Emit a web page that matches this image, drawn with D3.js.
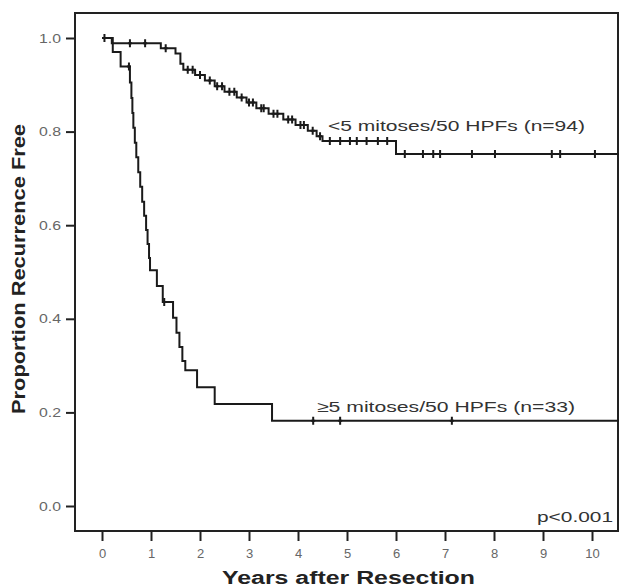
<!DOCTYPE html>
<html>
<head>
<meta charset="utf-8">
<script src="https://cdn.jsdelivr.net/npm/d3@7"></script>
<style>
    body { margin: 0; background: #fff; }
    svg { display: block; }
    text { font-family: "Liberation Sans", Arial, sans-serif; }
</style>
</head>
<body>
<div id="chart"></div>
<script>
const width = 624;
const height = 587;
const frame = { left: 75, top: 13, right: 618, bottom: 531 };

// <5 mitoses/50 HPFs: event times (years) and survival after each event
const lowTimes = [0.2, 1.2, 1.5, 1.6, 1.66, 1.9, 2.1, 2.3, 2.5, 2.75, 2.95, 3.15, 3.4, 3.7, 3.95, 4.2, 4.38, 4.5, 6.0];
const lowSurv = [0.989, 0.978, 0.967, 0.945, 0.932, 0.921, 0.909, 0.897, 0.885, 0.873, 0.862, 0.85, 0.838, 0.826, 0.814, 0.802, 0.79, 0.78, 0.752];
const lowCensored = [0.05, 0.57, 0.88, 1.3, 1.75, 1.85, 2.0, 2.2, 2.35, 2.45, 2.6, 2.7, 2.85, 3.0, 3.08, 3.25, 3.3, 3.5, 3.58, 3.8, 3.88, 4.05, 4.12, 4.3,
    4.45, 4.65, 4.86, 5.06, 5.2, 5.4, 5.63, 5.82, 6.18, 6.55, 6.76, 6.9, 7.55, 8.02, 9.18, 9.35, 10.06];

// >=5 mitoses/50 HPFs
const highTimes = [0.22, 0.38, 0.57, 0.6, 0.62, 0.64, 0.67, 0.7, 0.74, 0.78, 0.82, 0.86, 0.9, 0.93, 0.96, 0.98, 1.12, 1.24, 1.45, 1.52, 1.58, 1.64, 1.7, 1.94, 2.3, 3.47];
const highSurv = [0.97, 0.939, 0.905, 0.872, 0.84, 0.808, 0.776, 0.745, 0.713, 0.682, 0.65, 0.62, 0.59, 0.56, 0.53, 0.504, 0.47, 0.436, 0.402, 0.37, 0.34, 0.31, 0.29, 0.254, 0.218, 0.182];
const highCensored = [0.55, 1.27, 4.31, 4.86, 7.14];

const xTicks = [0, 1, 2, 3, 4, 5, 6, 7, 8, 9, 10];
const yTicks = [0, 0.2, 0.4, 0.6, 0.8, 1.0];
const followUpEnd = 10.55;

const svg = d3.select('#chart')
    .append('svg')
    .attr('width', width)
    .attr('height', height);

const x = d3.scaleLinear().domain([0, 10]).range([102, 592]);
const y = d3.scaleLinear().domain([0, 1]).range([506, 38]);

// AXES
const xAxis = svg.append('g')
    .attr('transform', `translate(0 ${frame.bottom})`)
    .call(d3.axisBottom(x).tickValues(xTicks).tickSize(10).tickSizeOuter(0).tickPadding(8));

const yAxis = svg.append('g')
    .attr('transform', `translate(${frame.left} 0)`)
    .call(d3.axisLeft(y).tickValues(yTicks).tickFormat(d3.format('.1f')).tickSize(9).tickSizeOuter(0).tickPadding(5));

[xAxis, yAxis].forEach(a => {
    a.select('.domain').remove();
    a.selectAll('.tick line').attr('stroke', '#222').attr('stroke-width', 2);
    a.selectAll('.tick text').attr('fill', '#666').style('font-size', '13px');
});
yAxis.selectAll('.tick text').attr('textLength', 22).attr('lengthAdjust', 'spacingAndGlyphs');

// FRAME
svg.append('rect')
    .attr('x', frame.left)
    .attr('y', frame.top)
    .attr('width', frame.right - frame.left)
    .attr('height', frame.bottom - frame.top)
    .attr('fill', 'none')
    .attr('stroke', '#222')
    .attr('stroke-width', 2);

// CURVES
const steps = (times, surv) => [[0, 1]].concat(times.map((t, i) => [t, surv[i]]), [[followUpEnd, surv[surv.length - 1]]]);
const survAt = (times, surv, t) => {
    const i = d3.bisectRight(times, t);
    return i === 0 ? 1 : surv[i - 1];
};

const line = d3.line()
    .x(d => x(d[0]))
    .y(d => y(d[1]))
    .curve(d3.curveStepAfter);

const groups = [
    { times: lowTimes, surv: lowSurv, censored: lowCensored },
    { times: highTimes, surv: highSurv, censored: highCensored }
];

groups.forEach(g => {
    svg.append('path')
        .datum(steps(g.times, g.surv))
        .attr('d', line)
        .attr('fill', 'none')
        .attr('stroke', '#1a1a1a')
        .attr('stroke-width', 2);

    svg.append('g').selectAll('path')
        .data(g.censored)
        .enter()
        .append('path')
        .attr('transform', d => `translate(${x(d)} ${y(survAt(g.times, g.surv, d))})`)
        .attr('d', 'M0 -4 v8 M-2 0 h4')
        .attr('stroke', '#1a1a1a')
        .attr('stroke-width', 2);
});

// LABELS
svg.append('text')
    .attr('x', 328).attr('y', 131)
    .attr('fill', '#333')
    .style('font-size', '15px')
    .attr('textLength', 257).attr('lengthAdjust', 'spacingAndGlyphs')
    .text('<5 mitoses/50 HPFs (n=94)');

svg.append('text')
    .attr('x', 317).attr('y', 412)
    .attr('fill', '#333')
    .style('font-size', '15px')
    .attr('textLength', 258).attr('lengthAdjust', 'spacingAndGlyphs')
    .text('≥5 mitoses/50 HPFs (n=33)');

svg.append('text')
    .attr('x', 537).attr('y', 522)
    .attr('fill', '#333')
    .style('font-size', '14px')
    .attr('textLength', 76).attr('lengthAdjust', 'spacingAndGlyphs')
    .text('p<0.001');

svg.append('text')
    .attr('x', 222).attr('y', 584)
    .attr('fill', '#222')
    .style('font-size', '18px').style('font-weight', 'bold')
    .attr('textLength', 253).attr('lengthAdjust', 'spacingAndGlyphs')
    .text('Years after Resection');

svg.append('text')
    .attr('transform', 'translate(25 414) rotate(-90)')
    .attr('fill', '#222')
    .style('font-size', '19px').style('font-weight', 'bold')
    .attr('textLength', 290).attr('lengthAdjust', 'spacingAndGlyphs')
    .text('Proportion Recurrence Free');
</script>
</body>
</html>
